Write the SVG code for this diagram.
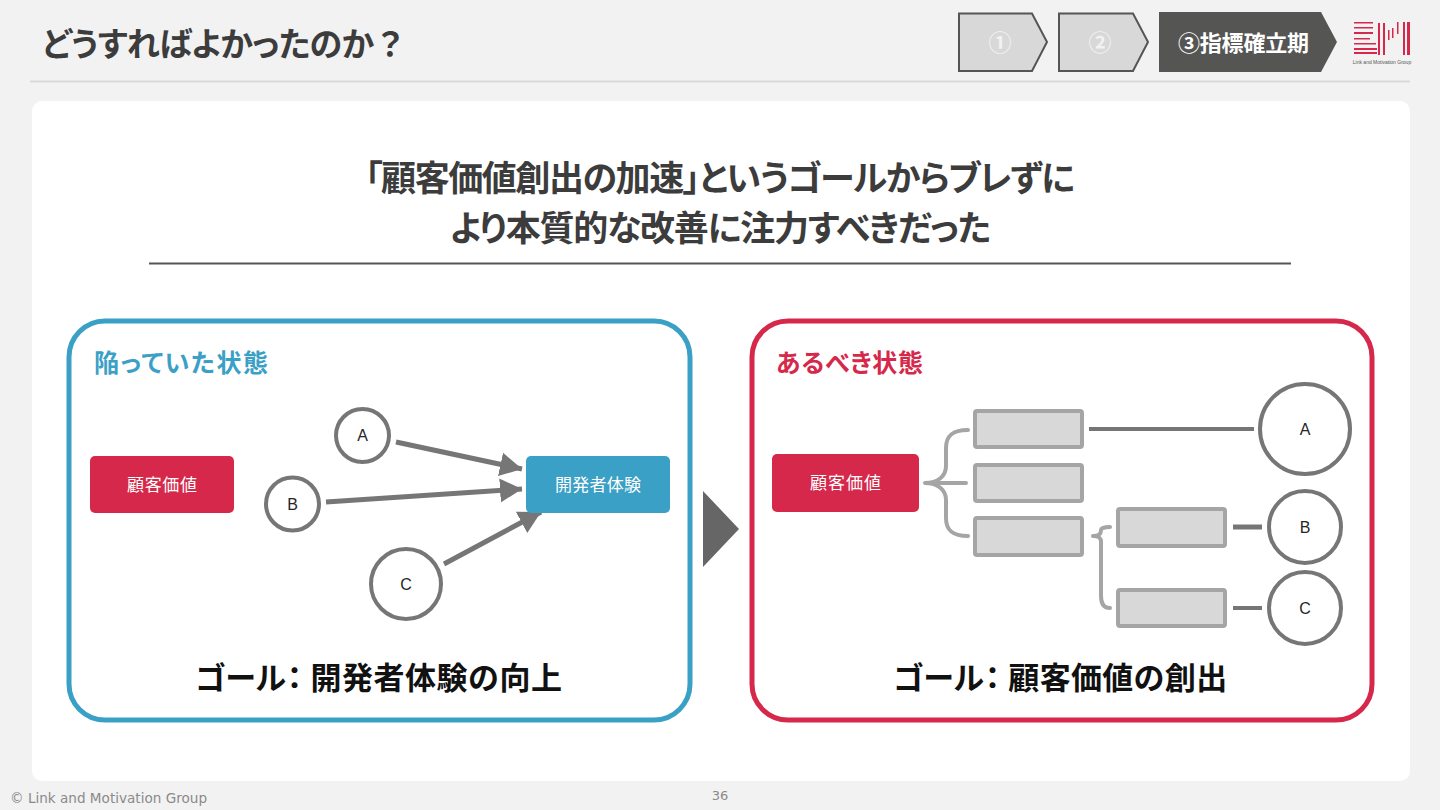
<svg xmlns="http://www.w3.org/2000/svg" width="1440" height="810" viewBox="0 0 1440 810">
<style>
text{font-family:"Noto Sans CJK JP","Liberation Sans",sans-serif;font-feature-settings:"palt"}
.latin{font-family:"Liberation Sans",Arial,sans-serif}
.c{text-anchor:middle}
.np{font-feature-settings:normal}
.circ{fill:#fff;stroke:#767676;stroke-width:4}
.box{fill:#d8d8d8;stroke:#a5a5a5;stroke-width:4}
.lbl{font-size:17px;fill:#fff}
.abc{font-size:16px;fill:#262626}
.goal{font-size:31px;font-weight:700;fill:#111}
.cn{fill:none;stroke:#767676;stroke-width:4}
.ar{fill:none;stroke:#767676;stroke-width:5}
.br{fill:none;stroke:#a5a5a5;stroke-width:4;stroke-linecap:round}
.lg{fill:#d6284a}
</style>
<defs><marker id="ah" markerUnits="userSpaceOnUse" markerWidth="24" markerHeight="26" refX="22" refY="13" orient="auto"><path d="M0 1L22 13L0 25Z" fill="#767676"/></marker></defs>
<rect width="1440" height="810" fill="#f2f2f2"/>
<text x="42" y="56" font-size="33" font-weight="700" fill="#3c3c3c" style="letter-spacing:-.6px">どうすればよかったのか<tspan class="np">？</tspan></text>
<line x1="30" y1="81.500" x2="1410" y2="81.500" stroke="#d9d9d9" stroke-width="2"/>
<g id="step1"><path d="M959 13.500H1032L1047 42L1032 71H959Z" fill="#d8d8d8" stroke="#555" stroke-width="2"/><text x="1000" y="51" class="c" font-size="23" font-weight="700" fill="#f2f2f2">①</text></g>
<g id="step2"><path d="M1059 13.500H1133L1148 42L1133 71H1059Z" fill="#d8d8d8" stroke="#555" stroke-width="2"/><text x="1100" y="51" class="c" font-size="23" font-weight="700" fill="#f2f2f2">②</text></g>
<g id="step3"><path d="M1159 12H1321L1337 42L1321 72H1159Z" fill="#555553"/><text x="1178" y="51" font-size="22" font-weight="700" fill="#fff" textLength="131" lengthAdjust="spacing">③指標確立期</text></g>
<g id="logo">
<rect class="lg" x="1354" y="22" width="19" height="1.500"/><rect class="lg" x="1354" y="27" width="19" height="1.500"/>
<rect class="lg" x="1354" y="32" width="19" height="2"/><rect class="lg" x="1354" y="38" width="16" height="1.500"/>
<rect class="lg" x="1354" y="43" width="22" height="1.500"/><rect class="lg" x="1354" y="48" width="23" height="2"/><rect class="lg" x="1354" y="52" width="23" height="2"/>
<rect class="lg" x="1378" y="23" width="2" height="32"/><rect class="lg" x="1383" y="23" width="2" height="32"/><rect class="lg" x="1388" y="30" width="1.500" height="10"/><rect class="lg" x="1392" y="28" width="1.500" height="10"/><rect class="lg" x="1397" y="22" width="1.500" height="12"/><rect class="lg" x="1403" y="22" width="2" height="33"/><rect class="lg" x="1407" y="22" width="3" height="33"/>
<text x="1382" y="64" class="c latin" font-size="5" fill="#555">Link and Motivation Group</text>
</g>
<rect x="32" y="101" width="1378" height="680" rx="10" fill="#fff"/>
<text x="365" y="191" font-size="35" font-weight="700" fill="#3c3c3c" textLength="710" lengthAdjust="spacing">「顧客価値創出の加速」というゴールからブレずに</text>
<text x="450" y="241" font-size="35" font-weight="700" fill="#3c3c3c" textLength="541" lengthAdjust="spacing">より本質的な改善に注力すべきだった</text>
<line x1="149" y1="263.500" x2="1291" y2="263.500" stroke="#555" stroke-width="2"/>
<g id="panel-left"><rect x="69" y="321" width="621" height="399" rx="36" fill="#fff" stroke="#3ba0c6" stroke-width="5"/><text x="94" y="372" font-size="25" font-weight="700" fill="#3ba0c6" textLength="174" lengthAdjust="spacing">陥っていた状態</text><text x="195" y="689" class="goal">ゴール<tspan class="np" dx="-7" style="letter-spacing:.5px">：開発者体験の向上</tspan></text></g>
<g id="panel-right"><rect x="752" y="321" width="620" height="399" rx="36" fill="#fff" stroke="#d6284a" stroke-width="5"/><text x="776" y="372" font-size="25" font-weight="700" fill="#d6284a" textLength="147" lengthAdjust="spacing">あるべき状態</text><text x="893" y="689" class="goal">ゴール<tspan class="np" dx="-7" style="letter-spacing:.3px">：顧客価値の創出</tspan></text></g>
<path id="big-arrow" d="M703 491L739 529L703 567Z" fill="#666"/>
<g id="connectors">
<line class="ar" x1="396" y1="442" x2="522" y2="469" marker-end="url(#ah)"/>
<line class="ar" x1="326" y1="502" x2="522" y2="489" marker-end="url(#ah)"/>
<line class="ar" x1="444" y1="564" x2="541" y2="512" marker-end="url(#ah)"/>
<path class="br" d="M933 483H925M968 430C952 430 946 436 946 448V466C946 476 938 483 925 483C938 483 946 490 946 500V518C946 530 952 536 968 536M925 483H966"/>
<path class="br" d="M1093 536C1099 536 1101 534 1101 530C1101 528 1105 527 1110 527M1093 536C1099 536 1101 538 1101 542V596C1101 604 1104 608 1110 608"/>
<line class="cn" x1="1089" y1="429" x2="1254" y2="429"/>
<line class="cn" x1="1233" y1="527" x2="1262" y2="527" style="stroke-width:5"/>
<line class="cn" x1="1233" y1="608" x2="1262" y2="608"/>
</g>
<g id="left-value"><rect x="90" y="456" width="144" height="57" rx="5" fill="#d6284a"/><text x="127" y="491" class="lbl" textLength="70" lengthAdjust="spacing">顧客価値</text></g>
<g id="left-devexp"><rect x="526" y="456" width="144" height="57" rx="5" fill="#3ba0c6"/><text x="555" y="491" class="lbl" textLength="86" lengthAdjust="spacing">開発者体験</text></g>
<g id="left-a"><circle class="circ" cx="362.500" cy="435.500" r="26.500"/><text x="362.500" y="441" class="c abc latin">A</text></g>
<g id="left-b"><circle class="circ" cx="292.500" cy="504" r="26.500"/><text x="292.500" y="510" class="c abc latin">B</text></g>
<g id="left-c"><circle class="circ" cx="406" cy="584" r="35"/><text x="406" y="590" class="c abc latin">C</text></g>
<g id="right-value"><rect x="772" y="454" width="147" height="58" rx="5" fill="#d6284a"/><text x="810" y="489" class="lbl" textLength="71" lengthAdjust="spacing">顧客価値</text></g>
<g id="r1"><rect class="box" x="975" y="411" width="107" height="36" rx="2"/></g>
<g id="r2"><rect class="box" x="975" y="465" width="107" height="36" rx="2"/></g>
<g id="r3"><rect class="box" x="975" y="518" width="107" height="37" rx="2"/></g>
<g id="r4"><rect class="box" x="1118" y="509" width="107" height="37" rx="2"/></g>
<g id="r5"><rect class="box" x="1118" y="590" width="107" height="36" rx="2"/></g>
<g id="right-a"><circle class="circ" cx="1305" cy="429" r="45"/><text x="1305" y="435" class="c abc latin">A</text></g>
<g id="right-b"><circle class="circ" cx="1305" cy="527" r="36"/><text x="1305" y="533" class="c abc latin">B</text></g>
<g id="right-c"><circle class="circ" cx="1305" cy="608" r="36"/><text x="1305" y="614" class="c abc latin">C</text></g>
<text x="10" y="803" font-size="14" fill="#8a8a8a" textLength="197" lengthAdjust="spacingAndGlyphs" style="font-family:'DejaVu Sans',sans-serif">© Link and Motivation Group</text>
<text x="720" y="800" class="c" font-size="13" fill="#8a8a8a" style="font-family:'DejaVu Sans',sans-serif">36</text>
</svg>
